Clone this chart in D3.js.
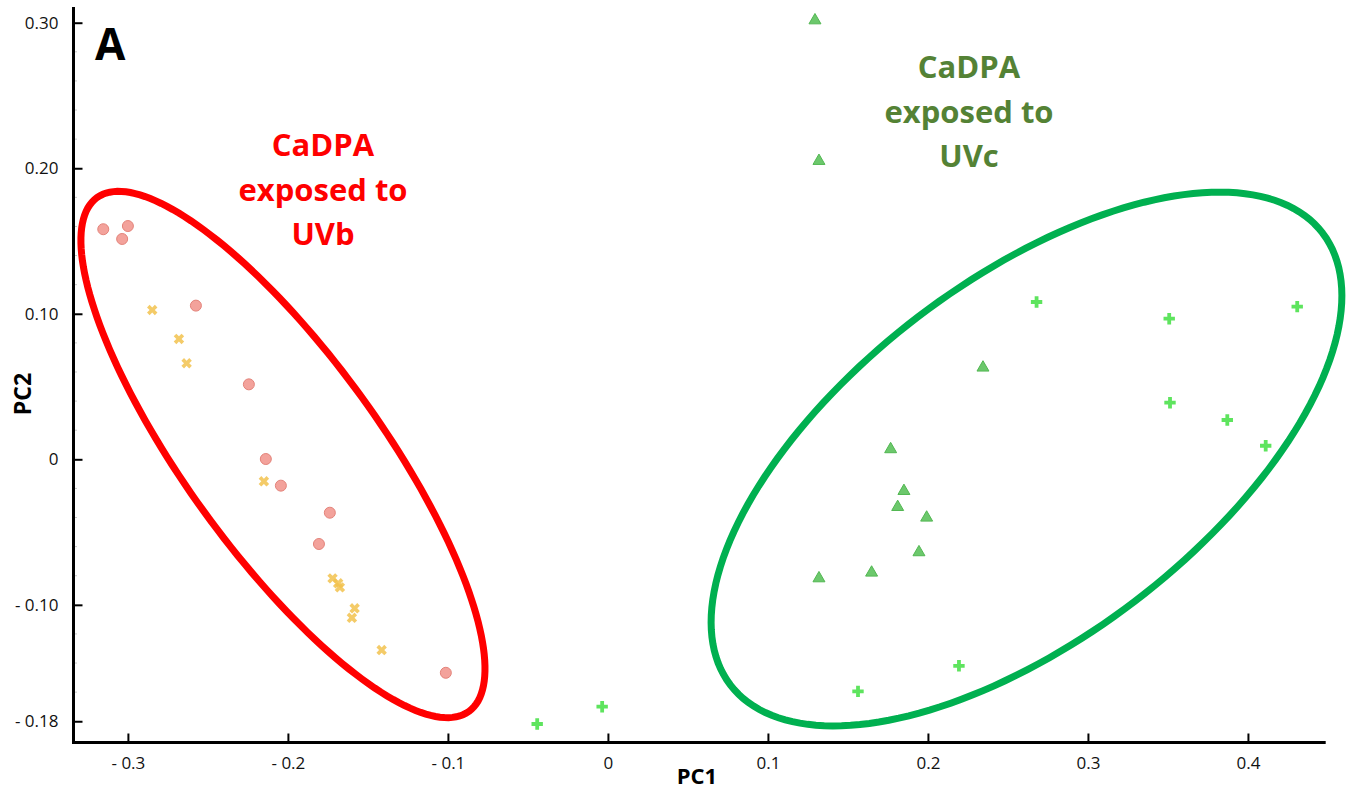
<!DOCTYPE html>
<html>
<head>
<meta charset="utf-8">
<script src="https://cdn.jsdelivr.net/npm/d3@7"></script>
<style>
  html, body { margin: 0; padding: 0; background: #ffffff; }
  svg { display: block; font-family: "Open Sans", "DejaVu Sans", sans-serif; }
</style>
</head>
<body>
<svg id="chart" width="1347" height="789"></svg>
<script>
// ---------- DATA ----------
const xTickValues = [-0.3, -0.2, -0.1, 0, 0.1, 0.2, 0.3, 0.4];
const xTickLabels = ["- 0.3", "- 0.2", "- 0.1", "0", "0.1", "0.2", "0.3", "0.4"];
const yTickValues = [0.30, 0.20, 0.10, 0, -0.10, -0.18];
const yTickLabels = ["0.30", "0.20", "0.10", "0", "- 0.10", "- 0.18"];
const yMinorTicks = [0.28, 0.26, 0.24, 0.22, 0.18, 0.16, 0.14, 0.12, 0.08, 0.06, 0.04, 0.02,
                     -0.02, -0.04, -0.06, -0.08, -0.12, -0.14, -0.16];

// CaDPA exposed to UVb - series 1 (circles)
const uvbCircleX = [-0.3154, -0.3036, -0.3000, -0.2575, -0.2244, -0.2138, -0.2044, -0.1738, -0.1806, -0.1013];
const uvbCircleY = [0.1581, 0.1514, 0.1603, 0.1056, 0.0515, 0.0002, -0.0181, -0.0367, -0.0582, -0.1467];
// CaDPA exposed to UVb - series 2 (x marks)
const uvbCrossX = [-0.2848, -0.2681, -0.2633, -0.2150, -0.1721, -0.1686, -0.1675, -0.1583, -0.1600, -0.1414];
const uvbCrossY = [0.1026, 0.0827, 0.0660, -0.0151, -0.0818, -0.0852, -0.0880, -0.1024, -0.1089, -0.1311];
// CaDPA exposed to UVc - series 1 (triangles)
const uvcTriX = [0.1294, 0.1319, 0.2344, 0.1767, 0.1850, 0.1811, 0.1992, 0.1944, 0.1648, 0.1319];
const uvcTriY = [0.3016, 0.2050, 0.0630, 0.0069, -0.0218, -0.0328, -0.0401, -0.0639, -0.0779, -0.0818];
// CaDPA exposed to UVc - series 2 (plus marks)
const uvcPlusX = [0.2679, 0.3508, 0.4308, 0.3513, 0.3871, 0.4111, -0.0442, -0.0036, 0.1563, 0.2194];
const uvcPlusY = [0.1081, 0.0966, 0.1049, 0.0389, 0.0270, 0.0093, -0.1819, -0.1700, -0.1595, -0.1419];

// Group ellipses: centre and two conjugate semi-axis vectors (data units)
const redEllipseCenter = [-0.2031, 0.0033];
const redEllipseAxisU = [0.11625, -0.1765];
const redEllipseAxisV = [-0.0493, -0.0393];
const greenEllipseCenter = [0.2616, 0.0002];
const greenEllipseAxisU = [0.1851, 0.1552];
const greenEllipseAxisV = [0.06775, -0.0977];

const redLabelLines = ["CaDPA", "exposed to", "UVb"];
const greenLabelLines = ["CaDPA", "exposed to", "UVc"];

// ---------- CHART ----------
(function () {
const svg = d3.select("#chart");
const mLeft = 73.5, mRight = 1325.7, mTop = 7, mBottom = 742.5;

const x = d3.scaleLinear().domain([-0.334, 0.4486]).range([mLeft, mRight]);
const y = d3.scaleLinear().domain([-0.1946, 0.3108]).range([mBottom, mTop]);

// minor y ticks
svg.append("g").selectAll("line").data(yMinorTicks).join("line")
  .attr("x1", mLeft).attr("x2", mLeft + 3.5)
  .attr("y1", d => y(d)).attr("y2", d => y(d))
  .attr("stroke", "#c8c8c8").attr("stroke-width", 1);

// x axis
const xAxis = d3.axisBottom(x)
  .tickValues(xTickValues)
  .tickFormat((d, i) => xTickLabels[i])
  .tickSizeInner(-9).tickSizeOuter(0).tickPadding(14);
const gx = svg.append("g").attr("transform", `translate(0,${mBottom})`).call(xAxis);
gx.select(".domain").remove();
gx.selectAll(".tick line").attr("stroke", "#000").attr("stroke-width", 2);
gx.selectAll(".tick text").attr("font-size", 17).attr("fill", "#111")
  .attr("font-family", "'Open Sans', sans-serif");

// y axis
const yAxis = d3.axisLeft(y)
  .tickValues(yTickValues)
  .tickFormat((d, i) => yTickLabels[i])
  .tickSizeInner(-9).tickSizeOuter(0).tickPadding(15);
const gy = svg.append("g").attr("transform", `translate(${mLeft},0)`).call(yAxis);
gy.select(".domain").remove();
gy.selectAll(".tick line").attr("stroke", "#000").attr("stroke-width", 2);
gy.selectAll(".tick text").attr("font-size", 17).attr("fill", "#111")
  .attr("font-family", "'Open Sans', sans-serif");

// axis lines
svg.append("line").attr("x1", mLeft).attr("x2", mLeft).attr("y1", mTop).attr("y2", mBottom + 1.5)
  .attr("stroke", "#000").attr("stroke-width", 3);
svg.append("line").attr("x1", mLeft - 1.5).attr("x2", mRight).attr("y1", mBottom).attr("y2", mBottom)
  .attr("stroke", "#000").attr("stroke-width", 3);

// axis titles
svg.append("text").attr("x", 697).attr("y", 784).attr("text-anchor", "middle")
  .attr("font-size", 22).attr("font-weight", "bold").attr("fill", "#000").text("PC1");
svg.append("text").attr("transform", "translate(31,394) rotate(-90)").attr("text-anchor", "middle")
  .attr("font-size", 23).attr("font-weight", "bold").attr("fill", "#000").text("PC2");

// panel letter
svg.append("text").attr("x", 95).attr("y", 60).attr("font-size", 44).attr("font-weight", "bold")
  .attr("fill", "#000").text("A");

// points
const sym = (type, size) => d3.symbol().type(type).size(size)();
const circleData = uvbCircleX.map((v, i) => [v, uvbCircleY[i]]);
const crossData = uvbCrossX.map((v, i) => [v, uvbCrossY[i]]);
const triData = uvcTriX.map((v, i) => [v, uvcTriY[i]]);
const plusData = uvcPlusX.map((v, i) => [v, uvcPlusY[i]]);

svg.append("g").selectAll("circle").data(circleData).join("circle")
  .attr("cx", d => x(d[0])).attr("cy", d => y(d[1])).attr("r", 5.5)
  .attr("fill", "#f29890").attr("fill-opacity", 0.9)
  .attr("stroke", "#e4837a").attr("stroke-width", 1);

svg.append("g").selectAll("path").data(crossData).join("path")
  .attr("d", sym(d3.symbolCross, 68))
  .attr("transform", d => `translate(${x(d[0])},${y(d[1])}) rotate(45)`)
  .attr("fill", "#f2c24e").attr("fill-opacity", 0.85);

svg.append("g").selectAll("path").data(triData).join("path")
  .attr("d", sym(d3.symbolTriangle, 62))
  .attr("transform", d => `translate(${x(d[0])},${y(d[1])})`)
  .attr("fill", "#6cc86c").attr("stroke", "#52b752").attr("stroke-width", 1);

svg.append("g").selectAll("path").data(plusData).join("path")
  .attr("d", sym(d3.symbolCross, 72))
  .attr("transform", d => `translate(${x(d[0])},${y(d[1])})`)
  .attr("fill", "#5ee45e");

// ellipses
function ellipsePoints(c, u, v) {
  return d3.range(0, 361, 2).map(a => {
    const t = a * Math.PI / 180;
    return [c[0] + u[0] * Math.cos(t) + v[0] * Math.sin(t),
            c[1] + u[1] * Math.cos(t) + v[1] * Math.sin(t)];
  });
}
const line = d3.line().x(d => x(d[0])).y(d => y(d[1])).curve(d3.curveLinearClosed);
svg.append("path").attr("d", line(ellipsePoints(redEllipseCenter, redEllipseAxisU, redEllipseAxisV)))
  .attr("fill", "none").attr("stroke", "#ff0000").attr("stroke-width", 7);
svg.append("path").attr("d", line(ellipsePoints(greenEllipseCenter, greenEllipseAxisU, greenEllipseAxisV)))
  .attr("fill", "none").attr("stroke", "#00b050").attr("stroke-width", 7);

// group labels
svg.append("text").attr("text-anchor", "middle").attr("font-size", 31).attr("font-weight", "bold")
  .attr("fill", "#ff0000")
  .selectAll("tspan").data(redLabelLines).join("tspan")
  .attr("x", 323).attr("y", (d, i) => 156 + i * 44.5).text(d => d);
svg.append("text").attr("text-anchor", "middle").attr("font-size", 31).attr("font-weight", "bold")
  .attr("fill", "#548235")
  .selectAll("tspan").data(greenLabelLines).join("tspan")
  .attr("x", 969).attr("y", (d, i) => 78 + i * 44.5).text(d => d);
})();
</script>
</body>
</html>
